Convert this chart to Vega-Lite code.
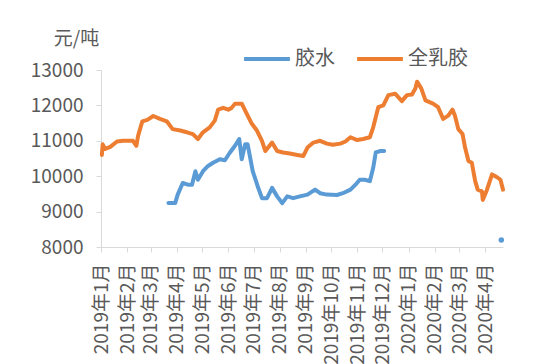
{
  "$schema": "https://vega.github.io/schema/vega-lite/v6.json",
  "width": 402,
  "height": 177,
  "autosize": "none",
  "padding": {"left": 101, "top": 70, "right": 47, "bottom": 117},
  "background": "white",
  "config": {
    "font": "Noto Sans CJK SC",
    "view": {"stroke": null}
  },
  "datasets": {
    "latex": [
      {"date": "2019-01-02", "price": 10600},
      {"date": "2019-01-03", "price": 10900},
      {"date": "2019-01-06", "price": 10770},
      {"date": "2019-01-12", "price": 10830},
      {"date": "2019-01-20", "price": 10980},
      {"date": "2019-01-27", "price": 11000},
      {"date": "2019-02-08", "price": 11000},
      {"date": "2019-02-12", "price": 10860},
      {"date": "2019-02-14", "price": 11140},
      {"date": "2019-02-19", "price": 11550},
      {"date": "2019-02-25", "price": 11590},
      {"date": "2019-03-04", "price": 11700},
      {"date": "2019-03-12", "price": 11620},
      {"date": "2019-03-20", "price": 11550},
      {"date": "2019-03-27", "price": 11330},
      {"date": "2019-04-05", "price": 11290},
      {"date": "2019-04-13", "price": 11240},
      {"date": "2019-04-20", "price": 11190},
      {"date": "2019-04-26", "price": 11050},
      {"date": "2019-05-02", "price": 11240},
      {"date": "2019-05-10", "price": 11380},
      {"date": "2019-05-16", "price": 11570},
      {"date": "2019-05-20", "price": 11880},
      {"date": "2019-05-26", "price": 11930},
      {"date": "2019-06-01", "price": 11880},
      {"date": "2019-06-05", "price": 11930},
      {"date": "2019-06-09", "price": 12050},
      {"date": "2019-06-17", "price": 12050},
      {"date": "2019-06-23", "price": 11760},
      {"date": "2019-06-29", "price": 11480},
      {"date": "2019-07-05", "price": 11290},
      {"date": "2019-07-11", "price": 11000},
      {"date": "2019-07-15", "price": 10710},
      {"date": "2019-07-23", "price": 10950},
      {"date": "2019-07-29", "price": 10710},
      {"date": "2019-08-05", "price": 10670},
      {"date": "2019-08-13", "price": 10640},
      {"date": "2019-08-22", "price": 10600},
      {"date": "2019-08-29", "price": 10570},
      {"date": "2019-09-03", "price": 10810},
      {"date": "2019-09-10", "price": 10950},
      {"date": "2019-09-18", "price": 11000},
      {"date": "2019-09-26", "price": 10920},
      {"date": "2019-10-03", "price": 10890},
      {"date": "2019-10-12", "price": 10920},
      {"date": "2019-10-18", "price": 10980},
      {"date": "2019-10-24", "price": 11100},
      {"date": "2019-11-01", "price": 11020},
      {"date": "2019-11-08", "price": 11050},
      {"date": "2019-11-16", "price": 11100},
      {"date": "2019-11-20", "price": 11380},
      {"date": "2019-11-26", "price": 11950},
      {"date": "2019-12-02", "price": 12000},
      {"date": "2019-12-08", "price": 12290},
      {"date": "2019-12-16", "price": 12330},
      {"date": "2019-12-24", "price": 12120},
      {"date": "2019-12-30", "price": 12290},
      {"date": "2020-01-05", "price": 12310},
      {"date": "2020-01-09", "price": 12480},
      {"date": "2020-01-11", "price": 12670},
      {"date": "2020-01-16", "price": 12480},
      {"date": "2020-01-21", "price": 12140},
      {"date": "2020-01-30", "price": 12050},
      {"date": "2020-02-05", "price": 11950},
      {"date": "2020-02-11", "price": 11620},
      {"date": "2020-02-17", "price": 11710},
      {"date": "2020-02-22", "price": 11880},
      {"date": "2020-02-25", "price": 11710},
      {"date": "2020-02-29", "price": 11330},
      {"date": "2020-03-05", "price": 11190},
      {"date": "2020-03-08", "price": 10810},
      {"date": "2020-03-12", "price": 10430},
      {"date": "2020-03-16", "price": 10380},
      {"date": "2020-03-20", "price": 9860},
      {"date": "2020-03-23", "price": 9620},
      {"date": "2020-03-28", "price": 9570},
      {"date": "2020-03-29", "price": 9330},
      {"date": "2020-04-03", "price": 9620},
      {"date": "2020-04-09", "price": 10050},
      {"date": "2020-04-15", "price": 9970},
      {"date": "2020-04-19", "price": 9900},
      {"date": "2020-04-22", "price": 9620}
    ],
    "field": [
      {"date": "2019-03-22", "price": 9240, "seg": 1},
      {"date": "2019-03-30", "price": 9240, "seg": 1},
      {"date": "2019-04-02", "price": 9480, "seg": 1},
      {"date": "2019-04-08", "price": 9810, "seg": 1},
      {"date": "2019-04-14", "price": 9760, "seg": 1},
      {"date": "2019-04-19", "price": 9760, "seg": 1},
      {"date": "2019-04-23", "price": 10140, "seg": 1},
      {"date": "2019-04-26", "price": 9900, "seg": 1},
      {"date": "2019-05-02", "price": 10140, "seg": 1},
      {"date": "2019-05-08", "price": 10290, "seg": 1},
      {"date": "2019-05-14", "price": 10380, "seg": 1},
      {"date": "2019-05-22", "price": 10480, "seg": 1},
      {"date": "2019-05-28", "price": 10450, "seg": 1},
      {"date": "2019-06-03", "price": 10670, "seg": 1},
      {"date": "2019-06-09", "price": 10860, "seg": 1},
      {"date": "2019-06-14", "price": 11050, "seg": 1},
      {"date": "2019-06-17", "price": 10480, "seg": 1},
      {"date": "2019-06-21", "price": 10900, "seg": 1},
      {"date": "2019-06-24", "price": 10900, "seg": 1},
      {"date": "2019-06-30", "price": 10140, "seg": 1},
      {"date": "2019-07-06", "price": 9710, "seg": 1},
      {"date": "2019-07-11", "price": 9380, "seg": 1},
      {"date": "2019-07-17", "price": 9380, "seg": 1},
      {"date": "2019-07-23", "price": 9670, "seg": 1},
      {"date": "2019-07-29", "price": 9430, "seg": 1},
      {"date": "2019-08-04", "price": 9240, "seg": 1},
      {"date": "2019-08-10", "price": 9430, "seg": 1},
      {"date": "2019-08-17", "price": 9380, "seg": 1},
      {"date": "2019-08-25", "price": 9430, "seg": 1},
      {"date": "2019-09-03", "price": 9480, "seg": 1},
      {"date": "2019-09-12", "price": 9620, "seg": 1},
      {"date": "2019-09-18", "price": 9520, "seg": 1},
      {"date": "2019-09-26", "price": 9480, "seg": 1},
      {"date": "2019-10-08", "price": 9470, "seg": 1},
      {"date": "2019-10-15", "price": 9520, "seg": 1},
      {"date": "2019-10-24", "price": 9620, "seg": 1},
      {"date": "2019-10-30", "price": 9760, "seg": 1},
      {"date": "2019-11-04", "price": 9900, "seg": 1},
      {"date": "2019-11-10", "price": 9900, "seg": 1},
      {"date": "2019-11-16", "price": 9860, "seg": 1},
      {"date": "2019-11-20", "price": 10240, "seg": 1},
      {"date": "2019-11-23", "price": 10670, "seg": 1},
      {"date": "2019-11-28", "price": 10710, "seg": 1},
      {"date": "2019-12-03", "price": 10710, "seg": 1},
      {"date": "2020-04-20", "price": 8200, "seg": 2}
    ]
  },
  "encoding": {
    "x": {
      "field": "date",
      "type": "temporal",
      "scale": {"type": "utc", "domain": ["2019-01-01", "2020-04-22"], "nice": false},
      "axis": {
        "title": null,
        "grid": false,
        "tickCount": {"interval": "month", "step": 1},
        "labelExpr": "utcFormat(datum.value, '%Y年%-m月')",
        "labelAngle": -90,
        "labelFontSize": 19,
        "labelColor": "#595959",
        "labelPadding": 11,
        "labelOverlap": false,
        "labelFlush": false,
        "domainColor": "#d9d9d9",
        "tickColor": "#d9d9d9",
        "tickSize": 5
      }
    },
    "y": {
      "field": "price",
      "type": "quantitative",
      "scale": {"domain": [8000, 13000], "nice": false, "zero": false},
      "axis": {
        "values": [8000, 9000, 10000, 11000, 12000, 13000],
        "format": "d",
        "grid": false,
        "title": "元/吨",
        "titleAngle": 0,
        "titleX": -25,
        "titleY": -32,
        "titleAlign": "center",
        "titleBaseline": "middle",
        "titleFontSize": 19,
        "titleFontWeight": "normal",
        "titleColor": "#595959",
        "labelFontSize": 19,
        "labelColor": "#595959",
        "labelPadding": 13,
        "domainColor": "#d9d9d9",
        "tickColor": "#d9d9d9",
        "tickSize": 5
      }
    }
  },
  "layer": [
    {
      "data": {"name": "field"},
      "transform": [{"calculate": "'胶水'", "as": "series"}],
      "mark": {"type": "line", "strokeWidth": 4, "strokeJoin": "round", "strokeCap": "round"},
      "encoding": {
        "detail": {"field": "seg"},
        "color": {
          "field": "series",
          "type": "nominal",
          "scale": {"domain": ["胶水", "全乳胶"], "range": ["#5B9BD5", "#ED7D31"]},
          "legend": {
            "title": null,
            "orient": "none",
            "direction": "horizontal",
            "legendX": 141,
            "legendY": -36,
            "symbolType": "stroke",
            "symbolStrokeWidth": 4,
            "symbolSize": 2100,
            "labelFontSize": 20,
            "labelColor": "#595959",
            "labelOffset": 3,
            "columnPadding": 14
          }
        }
      }
    },
    {
      "data": {"name": "latex"},
      "transform": [{"calculate": "'全乳胶'", "as": "series"}],
      "mark": {"type": "line", "strokeWidth": 4, "strokeJoin": "round", "strokeCap": "round"},
      "encoding": {
        "color": {"field": "series", "type": "nominal"}
      }
    },
    {
      "data": {"name": "field"},
      "transform": [{"filter": "datum.seg == 2"}],
      "mark": {"type": "circle", "color": "#5B9BD5", "opacity": 1, "size": 30}
    }
  ]
}
